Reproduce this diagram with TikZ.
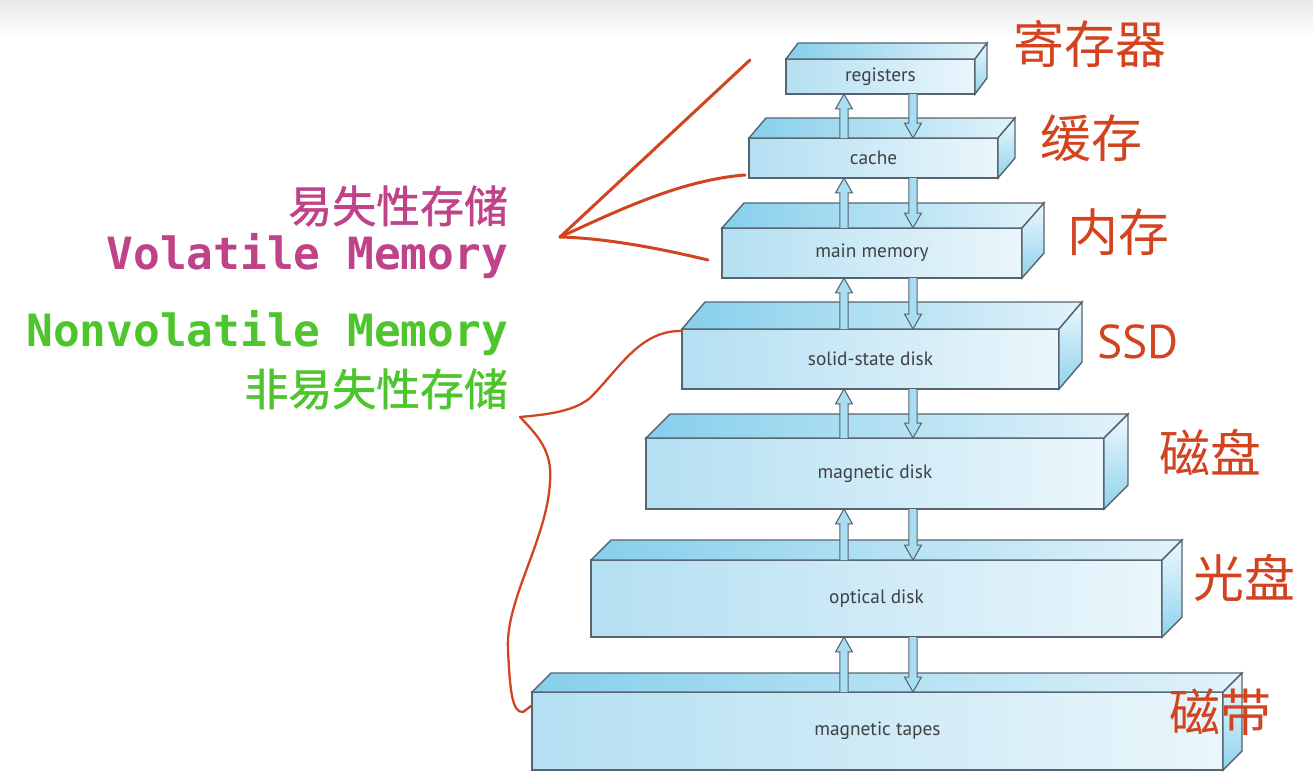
\documentclass[tikz,border=0pt]{standalone}
\usepackage{fontspec}
\setmainfont{PT Sans}
\newfontfamily\cjk{Noto Sans CJK SC}
\newfontfamily\cjkheavy[FakeBold=1.2]{Noto Sans CJK SC}
\newfontfamily\mono{DejaVu Sans Mono}
\usetikzlibrary{calc}
\definecolor{edge}{HTML}{56646F}
\definecolor{frontL}{HTML}{B4DFF2}
\definecolor{frontR}{HTML}{EAF6FB}
\definecolor{topL}{HTML}{86CFEC}
\definecolor{topR}{HTML}{E2F2F9}
\definecolor{sideT}{HTML}{EEF8FC}
\definecolor{sideB}{HTML}{8FD3EE}
\definecolor{arrowfill}{HTML}{A9DDF1}
\definecolor{boxtext}{HTML}{3F4144}
\definecolor{ink}{HTML}{D2431F}
\definecolor{volcol}{HTML}{C0438A}
\definecolor{nvcol}{HTML}{4EC52C}

\begin{document}
\begin{tikzpicture}[
    x=0.02cm, y=-0.02cm,
    every node/.style={inner sep=0pt, outer sep=0pt},
    front/.style={
        rectangle, draw=edge, line width=0.8pt,
        left color=frontL, right color=frontR,
        text=boxtext, font=\fontsize{11}{13}\selectfont,
    },
    topface/.style={draw=edge, line width=0.8pt, left color=topL, right color=topR},
    sideface/.style={draw=edge, line width=0.8pt, top color=sideT, bottom color=sideB},
    fat/.style={draw=edge, line width=0.6pt, fill=arrowfill, line join=miter},
    ink/.style={draw=ink, line width=1.7pt, line cap=round, line join=round},
    hand/.style={text=ink, font=\cjk\fontsize{29}{31}\selectfont},
    vol/.style={text=volcol, anchor=east},
    nonvol/.style={text=nvcol, anchor=east},
]
\useasboundingbox (0,0) rectangle (1313,782);
\fill[white] (0,0) rectangle (1313,782);
\shade[top color=black!9, bottom color=white] (0,0) rectangle (1313,36);

% ============================================================ the stack, top to bottom
\foreach \n/\xa/\ya/\xb/\yb/\dx/\dy/\txt in {
    1/786/59/975/94/12/16/registers,
    2/749/138/998/178/17/20/cache,
    3/722/228/1022/278/22/25/main memory,
    4/682/329/1059/389/23/27/solid-state disk,
    5/646/438/1104/509/24/24/magnetic disk,
    6/591/560/1162/637/20/20/optical disk,
    7/532/692/1223/770/19/19/magnetic tapes}{
    \node[front, minimum width={(\xb-\xa)*0.02cm}, minimum height={(\yb-\ya)*0.02cm}]
        (b\n) at ({(\xa+\xb)/2}, {(\ya+\yb)/2}) {\txt};
    \draw[topface] (b\n.north west) -- ++(\dx,-\dy)
        -- ($(b\n.north east)+(\dx,-\dy)$) -- (b\n.north east) -- cycle;
    \draw[sideface] (b\n.north east) -- ++(\dx,-\dy)
        -- ++(0,{\yb-\ya}) -- (b\n.south east) -- cycle;
}

% ============================================================ up and down between levels
\coordinate (upx) at (844,0);
\coordinate (dnx) at (913,0);
\foreach \hi/\lo in {1/2, 2/3, 3/4, 4/5, 5/6, 6/7}{
    \draw[fat] let \p1=(b\lo.north -| upx), \p2=(b\hi.south -| upx) in
        (\x1-2.3pt,\y1) -- (\x1-2.3pt,\y2-8.5pt) -- (\x1-4.8pt,\y2-8.5pt) -- (\x1,\y2)
        -- (\x1+4.8pt,\y2-8.5pt) -- (\x1+2.3pt,\y2-8.5pt) -- (\x1+2.3pt,\y1);
    \draw[fat] let \p1=(b\lo.north -| dnx), \p2=(b\hi.south -| dnx) in
        (\x1-2.3pt,\y2) -- (\x1-2.3pt,\y1+8.5pt) -- (\x1-4.8pt,\y1+8.5pt) -- (\x1,\y1)
        -- (\x1+4.8pt,\y1+8.5pt) -- (\x1+2.3pt,\y1+8.5pt) -- (\x1+2.3pt,\y2);
}

% ============================================================ handwritten names
\node[hand] (hreg)   at (1090, 44)  {寄存器};
\node[hand] (hcache) at (1091, 138) {缓存};
\node[hand] (hmain)  at (1118, 232) {内存};
\node[text=ink, font=\fontsize{27}{29}\selectfont] (hssd) at (1138, 342) {SSD};
\node[hand] (hdisk)  at (1210, 452) {磁盘};
\node[hand] (hopt)   at (1244, 578) {光盘};
\node[hand] (htape)  at (1220, 712) {磁带};

% ============================================================ the two groups
\node[vol, font=\cjkheavy\fontsize{25}{27}\selectfont]           (volzh) at (508, 206) {易失性存储};
\node[vol, font=\mono\bfseries\fontsize{25.3}{27}\selectfont]    (volen) at (508, 256) {Volatile Memory};
\node[nonvol, font=\mono\bfseries\fontsize{25.3}{27}\selectfont] (nonen) at (508, 333) {Nonvolatile Memory};
\node[nonvol, font=\cjkheavy\fontsize{25}{27}\selectfont]        (nonzh) at (508, 389) {非易失性存储};

% volatile: three strokes out of one point
\coordinate (vtip) at (560, 237);
\coordinate (vtop) at (750, 60);
\coordinate (vcache) at (745, 175);
\coordinate (vmain) at (708, 260);
\draw[ink] (vtip) -- (vtop);
\draw[ink] (vtip) .. controls (615,212) and (680,180) .. (vcache);
\draw[ink] (vtip) .. controls (600,238) and (650,246) .. (vmain);

% nonvolatile: one long brace from the ssd down to the tapes
\coordinate (nssd) at (682, 331);
\coordinate (ntip) at (520, 417);
\coordinate (ntape) at (531, 706);
\draw[ink, line width=1.3pt] (nssd) .. controls (640,330) and (620,368) .. (590,398)
    .. controls (572,413) and (540,415) .. (ntip)
    .. controls (536,434) and (553,450) .. (550,482)
    .. controls (547,540) and (505,600) .. (508,650)
    .. controls (510,690) and (512,713) .. (523,712) -- (ntape);

\end{tikzpicture}
\end{document}
